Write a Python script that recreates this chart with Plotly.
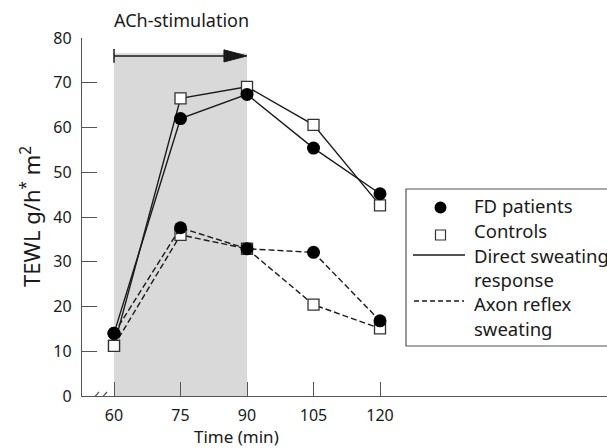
import plotly.graph_objects as go

# ---- data ----
time_min = [60, 75, 90, 105, 120]
fd_direct = [14.0, 62.0, 67.4, 55.4, 45.2]
ctrl_direct = [11.2, 66.5, 69.1, 60.6, 42.6]
fd_axon = [14.0, 37.6, 32.9, 32.1, 16.8]
ctrl_axon = [11.2, 36.0, 32.9, 20.4, 15.1]
x_ticks = [60, 75, 90, 105, 120]
y_ticks = [0, 10, 20, 30, 40, 50, 60, 70, 80]
stim_start, stim_end, stim_level, shade_top = 60, 90, 76.0, 76.6

FONT = "Noto Sans"
INK = "#1a1a1a"
AX = "#555555"

fig = go.Figure()

def add(y, symbol, dash, fill):
    fig.add_trace(go.Scatter(
        x=time_min, y=y, mode="lines+markers",
        line=dict(color=INK, width=1.4, dash=dash),
        marker=dict(symbol=symbol, size=13 if symbol == "circle" else 11,
                    color=fill, line=dict(color="#333333", width=1.3 if symbol == "square" else 0)),
        showlegend=False, cliponaxis=False, hoverinfo="skip"))

add(ctrl_axon, "square", "6px,3px", "white")
add(fd_axon, "circle", "6px,3px", "black")
add(ctrl_direct, "square", "solid", "white")
add(fd_direct, "circle", "solid", "black")

shapes = []
# shaded stimulation period
shapes.append(dict(type="rect", xref="x", yref="y", x0=stim_start, x1=stim_end, y0=0, y1=shade_top,
                   fillcolor="#d9d9d9", line=dict(width=0), layer="below"))
# arrow
head_len = 5.2
head_half = 1.35
shapes.append(dict(type="line", xref="x", yref="y", x0=stim_start, x1=stim_end - head_len,
                   y0=stim_level, y1=stim_level, line=dict(color=INK, width=1.5)))
shapes.append(dict(type="line", xref="x", yref="y", x0=stim_start, x1=stim_start,
                   y0=stim_level - 1.55, y1=stim_level + 1.55, line=dict(color=INK, width=1.5)))
shapes.append(dict(type="path", xref="x", yref="y",
                   path=f"M {stim_end} {stim_level} L {stim_end-head_len} {stim_level+head_half} "
                        f"L {stim_end-head_len} {stim_level-head_half} Z",
                   fillcolor=INK, line=dict(color=INK, width=1)))
# axis break marks
for off in (0, 8):
    shapes.append(dict(type="line", xref="x", yref="y", xsizemode="pixel", ysizemode="pixel",
                       xanchor=time_min[0], yanchor=0,
                       x0=-24 + off, x1=-15 + off, y0=-6, y1=4, line=dict(color=AX, width=1.2)))

# figure is a little wider than the window so the legend box runs off the right edge
FIG_W, FIG_H = 640, 448
L, T, W, H = 82, 38, 558, 358
def px(x): return (x - L) / W
def py(y): return (T + H - y) / H
bx0, by0, by1 = px(406), py(346), py(189)
shapes.append(dict(type="rect", xref="paper", yref="paper", x0=bx0, x1=1.0,
                   y0=by0, y1=by1, fillcolor="white", line=dict(color=AX, width=1.2)))
shapes.append(dict(type="circle", xref="paper", yref="paper", x0=px(434.5), x1=px(446.5),
                   y0=py(213.5), y1=py(201.5), fillcolor="black", line=dict(width=0)))
shapes.append(dict(type="rect", xref="paper", yref="paper", x0=px(435.5), x1=px(445.5),
                   y0=py(240), y1=py(230), fillcolor="white", line=dict(color="#333", width=1.2)))
shapes.append(dict(type="line", xref="paper", yref="paper", x0=px(413), x1=px(465),
                   y0=py(255), y1=py(255), line=dict(color=INK, width=1.3)))
shapes.append(dict(type="line", xref="paper", yref="paper", x0=px(414), x1=px(464),
                   y0=py(301), y1=py(301), line=dict(color=INK, width=1.3, dash="5px,3px")))

annotations = []
for txt, yy in [("FD patients", 205), ("Controls", 230), ("Direct sweating", 255),
                ("response", 279), ("Axon reflex", 303), ("sweating", 328)]:
    annotations.append(dict(text=txt, xref="paper", yref="paper", x=px(472), y=py(yy),
                            xanchor="left", yanchor="middle", showarrow=False,
                            font=dict(family=FONT, size=18.5, color=INK)))
annotations.append(dict(text="ACh-stimulation", xref="x", yref="paper", x=75.2, y=py(20),
                        xanchor="center", yanchor="middle", showarrow=False,
                        font=dict(family=FONT, size=18, color=INK)))
annotations.append(dict(text="Time (min)", xref="paper", yref="paper", x=px(236), y=py(437),
                        xanchor="center", yanchor="middle", showarrow=False,
                        font=dict(family=FONT, size=17, color=INK)))
annotations.append(dict(text="TEWL g/h<sup>*</sup> m<sup>2</sup>", xref="paper", yref="paper",
                        x=px(30), y=py(217), textangle=-90,
                        xanchor="center", yanchor="middle", showarrow=False,
                        font=dict(family=FONT, size=22, color=INK)))

x_per_px = 15 / 66.5
fig.update_layout(
    width=FIG_W, height=FIG_H,
    margin=dict(l=L, r=FIG_W - L - W, t=T, b=FIG_H - T - H, pad=0),
    plot_bgcolor="white", paper_bgcolor="white",
    shapes=shapes, annotations=annotations,
    font=dict(family=FONT, size=15, color=INK),
    xaxis=dict(range=[52.78, 52.78 + W * x_per_px], tickvals=x_ticks, ticks="inside", ticklen=14,
               tickwidth=1.3, tickcolor=AX, showline=True, linecolor=AX, linewidth=1.3,
               showgrid=False, zeroline=False, ticklabelstandoff=5, tickfont=dict(size=16),
               automargin=False),
    yaxis=dict(range=[0, 80], tickvals=y_ticks, ticks="inside", ticklen=15, tickwidth=1.3,
               tickcolor=AX, showline=True, linecolor=AX, linewidth=1.3, showgrid=False,
               zeroline=False, ticklabelstandoff=6, tickfont=dict(size=16), automargin=False),
)

fig.write_html("out.html", config={"displayModeBar": False},
               post_script="document.body.style.margin='0';document.body.style.overflow='hidden';")
